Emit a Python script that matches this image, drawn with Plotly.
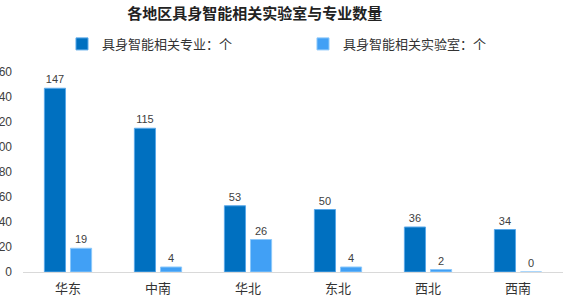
import plotly.graph_objects as go

regions = ["华东", "中南", "华北", "东北", "西北", "西南"]
majors = [147, 115, 53, 50, 36, 34]
labs = [19, 4, 26, 4, 2, 0]
name_major = "具身智能相关专业：个"
name_lab = "具身智能相关实验室：个"
title = "各地区具身智能相关实验室与专业数量"
yticks = [0, 20, 40, 60, 80, 100, 120, 140, 160]

font_family = "Liberation Sans, Noto Sans CJK SC, sans-serif"

fig = go.Figure()
fig.add_trace(go.Bar(
    x=regions, y=majors, name=name_major,
    marker=dict(color="#0070C0", line=dict(color="#5AA8E8", width=1)),
    text=majors, textposition="outside", cliponaxis=False,
    textfont=dict(size=11, color="#404040"),
))
fig.add_trace(go.Bar(
    x=regions, y=labs, name=name_lab,
    marker=dict(color="#41A0F5", line=dict(color="#8CC8FA", width=1)),
    text=labs, textposition="outside", cliponaxis=False,
    textfont=dict(size=11, color="#404040"),
))

fig.update_layout(
    width=574, height=297,
    margin=dict(l=23, r=11, t=72, b=25),
    paper_bgcolor="white", plot_bgcolor="white",
    font=dict(family=font_family, size=12, color="#404040"),
    title=dict(text="<b>" + title + "</b>", x=0.444, xanchor="center", y=0.955, yanchor="middle",
               font=dict(size=15, color="#222222", family="Noto Sans CJK SC")),
    barmode="group", bargap=0.42, bargroupgap=0.19,
    showlegend=True,
    legend=dict(orientation="h", xref="container", yref="container",
                x=0.108, xanchor="left", y=0.852, yanchor="middle",
                entrywidth=196, entrywidthmode="pixels",
                font=dict(size=13, color="#333333", family="Noto Sans CJK SC"),
                itemwidth=30, bgcolor="rgba(0,0,0,0)"),
    xaxis=dict(showgrid=False, showline=True, linecolor="#D9D9D9", linewidth=1,
               ticks="", tickfont=dict(size=13, color="#333333", family="Noto Sans CJK SC"),
               ticklabelstandoff=4, automargin=False),
    yaxis=dict(range=[0, 160], tickvals=yticks, showgrid=False, zeroline=False,
               showline=False, ticks="", tickfont=dict(size=12, color="#404040"),
               ticklabelstandoff=10, automargin=False),
)

fig.write_html("out.html")
